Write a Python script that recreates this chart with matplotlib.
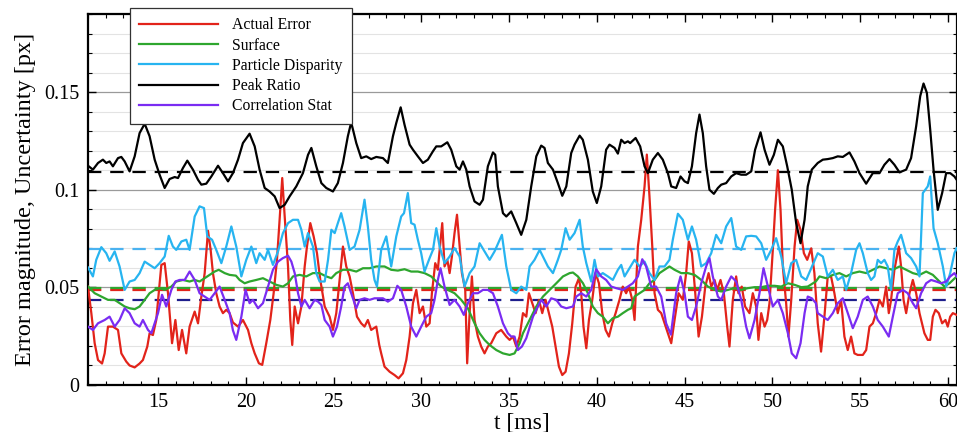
import matplotlib
matplotlib.use("Agg")
import matplotlib.pyplot as plt
from matplotlib.ticker import MultipleLocator, FormatStrFormatter

plt.rcParams['font.family'] = ['Liberation Serif', 'DejaVu Serif']

# ---------------- data (t [ms], value [px]) ----------------
actual_error = [(11.00,.0504),(11.19,.0368),(11.38,.0214),(11.57,.0128),(11.80,.0110),(11.95,.0162),(12.14,.0299),(12.42,.0299),(12.71,.0282),(12.90,.0162),(13.18,.0120),(13.37,.0100),(13.66,.0090),(13.94,.0110),(14.13,.0128),(14.38,.0197),(14.51,.0265),(14.70,.0256),(14.89,.0333),(15.03,.0470),(15.18,.0615),(15.37,.0624),(15.56,.0470),(15.79,.0214),(15.98,.0333),(16.17,.0179),(16.36,.0282),(16.60,.0162),(16.79,.0299),(17.08,.0376),(17.27,.0316),(17.46,.0453),(17.65,.0573),(17.84,.0790),(17.99,.0692),(18.12,.0573),(18.31,.0470),(18.50,.0402),(18.69,.0368),(18.88,.0385),(19.07,.0368),(19.26,.0320),(19.55,.0299),(19.83,.0333),(20.12,.0282),(20.31,.0214),(20.50,.0162),(20.74,.0111),(20.93,.0103),(21.16,.0214),(21.39,.0333),(21.58,.0470),(21.77,.0641),(21.92,.0846),(22.07,.1060),(22.21,.0863),(22.40,.0607),(22.53,.0333),(22.64,.0205),(22.78,.0402),(22.97,.0316),(23.16,.0402),(23.35,.0607),(23.48,.0709),(23.67,.0829),(23.86,.0761),(24.05,.0675),(24.24,.0538),(24.49,.0402),(24.77,.0350),(24.96,.0282),(25.15,.0368),(25.38,.0573),(25.53,.0709),(25.72,.0607),(25.91,.0556),(26.10,.0470),(26.33,.0350),(26.57,.0316),(26.76,.0299),(26.95,.0333),(27.14,.0282),(27.43,.0299),(27.60,.0205),(27.71,.0162),(27.90,.0094),(28.19,.0068),(28.47,.0051),(28.70,.0034),(28.95,.0060),(29.14,.0128),(29.33,.0248),(29.52,.0419),(29.71,.0487),(29.90,.0368),(30.09,.0402),(30.28,.0299),(30.47,.0316),(30.60,.0470),(30.79,.0624),(30.94,.0590),(31.06,.0709),(31.19,.0829),(31.32,.0607),(31.48,.0641),(31.61,.0573),(31.74,.0658),(31.89,.0778),(32.03,.0872),(32.18,.0709),(32.31,.0573),(32.50,.0487),(32.61,.0111),(32.75,.0368),(32.88,.0556),(33.03,.0333),(33.22,.0248),(33.41,.0197),(33.60,.0162),(33.79,.0197),(33.98,.0214),(34.27,.0265),(34.55,.0282),(34.84,.0248),(35.03,.0231),(35.22,.0248),(35.41,.0197),(35.60,.0248),(35.79,.0368),(35.98,.0350),(36.13,.0470),(36.32,.0419),(36.51,.0368),(36.70,.0436),(36.89,.0368),(37.08,.0436),(37.27,.0368),(37.46,.0299),(37.65,.0197),(37.84,.0094),(38.03,.0051),(38.22,.0068),(38.41,.0162),(38.60,.0316),(38.79,.0504),(38.98,.0547),(39.11,.0470),(39.24,.0299),(39.40,.0188),(39.55,.0333),(39.74,.0436),(39.93,.0573),(40.12,.0521),(40.31,.0368),(40.50,.0282),(40.69,.0248),(40.88,.0316),(41.07,.0368),(41.29,.0436),(41.48,.0504),(41.67,.0470),(41.83,.0504),(42.02,.0436),(42.15,.0333),(42.34,.0709),(42.53,.0846),(42.72,.1017),(42.85,.1180),(43.00,.0966),(43.16,.0709),(43.29,.0470),(43.48,.0385),(43.67,.0368),(43.86,.0316),(44.05,.0265),(44.24,.0214),(44.43,.0333),(44.66,.0470),(44.90,.0436),(45.09,.0573),(45.24,.0735),(45.42,.0675),(45.61,.0470),(45.80,.0248),(45.99,.0350),(46.18,.0504),(46.37,.0573),(46.52,.0504),(46.71,.0538),(46.86,.0487),(47.05,.0538),(47.24,.0470),(47.43,.0299),(47.56,.0197),(47.75,.0436),(47.94,.0556),(48.07,.0470),(48.26,.0504),(48.45,.0402),(48.70,.0368),(48.89,.0470),(49.08,.0402),(49.21,.0231),(49.37,.0368),(49.56,.0299),(49.71,.0333),(49.84,.0419),(50.03,.0692),(50.16,.0897),(50.32,.1100),(50.47,.0897),(50.60,.0607),(50.79,.0419),(50.92,.0248),(51.08,.0436),(51.27,.0709),(51.42,.0846),(51.61,.0795),(51.80,.0675),(51.99,.0641),(52.22,.0700),(52.40,.0573),(52.59,.0316),(52.78,.0171),(52.97,.0350),(53.16,.0556),(53.35,.0556),(53.54,.0470),(53.73,.0368),(53.92,.0436),(54.11,.0248),(54.30,.0179),(54.49,.0248),(54.68,.0162),(54.87,.0154),(55.16,.0154),(55.35,.0179),(55.54,.0299),(55.73,.0316),(55.92,.0368),(56.11,.0436),(56.30,.0402),(56.49,.0504),(56.64,.0368),(56.77,.0436),(56.96,.0590),(57.21,.0709),(57.34,.0607),(57.48,.0436),(57.63,.0368),(57.82,.0470),(58.01,.0538),(58.20,.0470),(58.39,.0368),(58.67,.0265),(58.86,.0231),(59.00,.0231),(59.15,.0350),(59.30,.0385),(59.49,.0368),(59.68,.0316),(59.87,.0333),(60.00,.0299),(60.14,.0350),(60.29,.0368),(60.51,.0359)]

surface = [(11.00,.0504),(11.38,.0470),(11.76,.0453),(12.14,.0436),(12.52,.0436),(12.80,.0419),(13.09,.0402),(13.37,.0393),(13.66,.0388),(13.94,.0402),(14.23,.0436),(14.51,.0470),(14.80,.0487),(15.08,.0496),(15.37,.0487),(15.75,.0504),(16.03,.0530),(16.41,.0538),(16.79,.0530),(17.08,.0538),(17.36,.0530),(17.65,.0547),(17.93,.0564),(18.22,.0581),(18.45,.0590),(18.79,.0573),(19.07,.0564),(19.43,.0560),(19.64,.0538),(19.93,.0521),(20.21,.0530),(20.59,.0538),(20.97,.0547),(21.35,.0530),(21.73,.0513),(22.11,.0504),(22.40,.0521),(22.68,.0556),(23.06,.0564),(23.44,.0556),(23.82,.0573),(24.20,.0573),(24.58,.0556),(24.87,.0547),(25.15,.0573),(25.53,.0590),(25.91,.0590),(26.29,.0581),(26.67,.0598),(27.05,.0598),(27.43,.0607),(27.90,.0607),(28.28,.0590),(28.66,.0586),(29.04,.0593),(29.42,.0581),(29.80,.0581),(30.18,.0573),(30.56,.0556),(30.85,.0530),(31.13,.0504),(31.51,.0487),(31.89,.0470),(32.27,.0436),(32.65,.0393),(33.03,.0316),(33.32,.0265),(33.60,.0231),(33.89,.0205),(34.27,.0179),(34.65,.0162),(35.03,.0154),(35.31,.0162),(35.60,.0214),(35.79,.0265),(36.17,.0333),(36.55,.0402),(36.93,.0453),(37.31,.0487),(37.69,.0521),(38.07,.0556),(38.45,.0573),(38.64,.0576),(38.92,.0556),(39.21,.0521),(39.49,.0470),(39.77,.0402),(40.06,.0368),(40.34,.0350),(40.63,.0316),(40.91,.0342),(41.20,.0350),(41.48,.0368),(41.77,.0385),(41.96,.0393),(42.15,.0453),(42.43,.0470),(42.72,.0487),(43.00,.0521),(43.29,.0538),(43.57,.0573),(43.86,.0590),(44.14,.0607),(44.43,.0590),(44.81,.0573),(45.19,.0573),(45.57,.0564),(45.95,.0538),(46.33,.0504),(46.71,.0487),(47.09,.0479),(47.47,.0487),(47.85,.0496),(48.23,.0487),(48.61,.0496),(48.99,.0501),(49.37,.0501),(49.75,.0508),(50.13,.0508),(50.51,.0504),(50.89,.0521),(51.27,.0513),(51.65,.0501),(52.02,.0504),(52.48,.0530),(52.69,.0556),(53.07,.0547),(53.45,.0564),(53.83,.0573),(54.21,.0556),(54.59,.0573),(54.97,.0581),(55.35,.0573),(55.73,.0590),(56.11,.0607),(56.49,.0598),(56.87,.0590),(57.25,.0607),(57.63,.0590),(58.01,.0573),(58.39,.0564),(58.77,.0581),(59.15,.0564),(59.53,.0530),(59.81,.0504),(60.10,.0521),(60.51,.0556)]

particle_disparity = [(11.00,.0602),(11.28,.0556),(11.47,.0641),(11.76,.0706),(12.04,.0675),(12.23,.0636),(12.52,.0684),(12.80,.0607),(13.09,.0487),(13.37,.0530),(13.66,.0538),(13.94,.0573),(14.23,.0632),(14.51,.0615),(14.80,.0598),(15.08,.0624),(15.37,.0658),(15.60,.0764),(15.84,.0709),(16.03,.0692),(16.32,.0735),(16.60,.0744),(16.79,.0692),(17.08,.0863),(17.36,.0915),(17.61,.0906),(17.80,.0761),(18.07,.0744),(18.31,.0692),(18.60,.0624),(18.88,.0709),(19.17,.0812),(19.45,.0709),(19.74,.0556),(20.02,.0641),(20.31,.0709),(20.59,.0624),(20.78,.0675),(21.07,.0641),(21.26,.0692),(21.54,.0615),(21.83,.0684),(22.11,.0778),(22.40,.0829),(22.68,.0846),(22.97,.0846),(23.16,.0795),(23.35,.0709),(23.54,.0778),(23.82,.0709),(24.01,.0573),(24.20,.0530),(24.49,.0530),(24.68,.0641),(24.87,.0795),(25.06,.0778),(25.24,.0829),(25.43,.0880),(25.62,.0812),(25.91,.0692),(26.19,.0709),(26.48,.0795),(26.76,.0949),(26.95,.0812),(27.14,.0641),(27.33,.0538),(27.47,.0504),(27.71,.0692),(28.00,.0761),(28.28,.0607),(28.57,.0761),(28.85,.0863),(29.01,.0880),(29.23,.0983),(29.42,.0829),(29.61,.0821),(29.80,.0744),(29.99,.0675),(30.18,.0581),(30.47,.0650),(30.66,.0692),(30.85,.0803),(31.04,.0709),(31.32,.0624),(31.61,.0658),(31.89,.0701),(32.18,.0658),(32.46,.0504),(32.75,.0573),(33.03,.0607),(33.32,.0726),(33.60,.0684),(33.89,.0641),(34.17,.0684),(34.59,.0769),(34.84,.0607),(35.12,.0487),(35.41,.0470),(35.69,.0504),(35.98,.0487),(36.17,.0607),(36.45,.0641),(36.74,.0692),(36.93,.0658),(37.21,.0607),(37.50,.0573),(37.78,.0641),(37.97,.0692),(38.22,.0803),(38.45,.0744),(38.73,.0778),(39.02,.0846),(39.20,.0709),(39.40,.0624),(39.68,.0530),(39.87,.0641),(40.06,.0556),(40.34,.0573),(40.63,.0556),(40.91,.0538),(41.20,.0590),(41.39,.0615),(41.58,.0556),(41.86,.0598),(42.15,.0641),(42.43,.0607),(42.72,.0632),(43.00,.0573),(43.29,.0538),(43.57,.0607),(43.86,.0607),(44.14,.0641),(44.33,.0744),(44.62,.0877),(44.90,.0846),(45.19,.0744),(45.42,.0812),(45.66,.0744),(45.95,.0607),(46.23,.0624),(46.52,.0675),(46.80,.0769),(47.09,.0726),(47.37,.0812),(47.66,.0855),(47.94,.0709),(48.23,.0692),(48.51,.0761),(48.80,.0764),(49.08,.0761),(49.37,.0726),(49.65,.0641),(49.94,.0692),(50.22,.0752),(50.51,.0658),(50.79,.0521),(51.08,.0624),(51.36,.0641),(51.65,.0556),(51.93,.0538),(52.22,.0598),(52.59,.0675),(52.88,.0658),(53.16,.0556),(53.45,.0590),(53.73,.0538),(54.02,.0556),(54.21,.0487),(54.49,.0573),(54.78,.0692),(54.97,.0726),(55.16,.0675),(55.44,.0573),(55.63,.0538),(55.82,.0556),(56.01,.0641),(56.20,.0624),(56.39,.0641),(56.58,.0607),(56.77,.0487),(56.96,.0692),(57.15,.0735),(57.34,.0769),(57.63,.0675),(57.91,.0650),(58.20,.0607),(58.39,.0556),(58.58,.0983),(58.86,.1017),(59.00,.1068),(59.19,.0803),(59.43,.0726),(59.72,.0607),(59.91,.0504),(60.14,.0573),(60.38,.0675),(60.51,.0701)]

peak_ratio = [(11.00,.1123),(11.28,.1103),(11.57,.1137),(11.85,.1154),(12.04,.1137),(12.23,.1145),(12.42,.1120),(12.71,.1162),(12.90,.1168),(13.09,.1145),(13.37,.1094),(13.66,.1171),(13.94,.1290),(14.23,.1338),(14.51,.1274),(14.80,.1154),(15.08,.1077),(15.37,.1009),(15.65,.1055),(15.94,.1065),(16.13,.1060),(16.41,.1111),(16.66,.1149),(16.98,.1103),(17.27,.1051),(17.46,.1026),(17.74,.1031),(18.03,.1068),(18.41,.1123),(18.69,.1085),(18.98,.1043),(19.26,.1085),(19.55,.1154),(19.83,.1239),(20.21,.1287),(20.50,.1222),(20.78,.1103),(21.07,.1009),(21.35,.0991),(21.64,.0966),(21.92,.0906),(22.21,.0923),(22.49,.0966),(22.87,.1017),(23.25,.1085),(23.54,.1179),(23.73,.1214),(24.01,.1120),(24.30,.1034),(24.58,.1009),(24.96,.0991),(25.24,.1034),(25.53,.1137),(25.81,.1274),(26.00,.1345),(26.29,.1239),(26.57,.1162),(26.86,.1171),(27.14,.1157),(27.43,.1168),(27.81,.1162),(28.09,.1137),(28.38,.1274),(28.57,.1342),(28.82,.1422),(29.04,.1333),(29.33,.1231),(29.52,.1205),(29.80,.1171),(30.09,.1137),(30.37,.1154),(30.66,.1197),(30.85,.1222),(31.13,.1222),(31.48,.1243),(31.70,.1205),(31.99,.1120),(32.18,.1103),(32.37,.1145),(32.56,.1103),(32.75,.1017),(33.03,.0940),(33.32,.0923),(33.51,.0949),(33.79,.1120),(34.08,.1191),(34.21,.1179),(34.36,.1017),(34.65,.0880),(34.84,.0863),(35.12,.0889),(35.41,.0829),(35.69,.0769),(35.98,.0846),(36.26,.1017),(36.55,.1171),(36.83,.1226),(37.02,.1214),(37.21,.1137),(37.50,.1103),(37.78,.1034),(38.03,.0969),(38.26,.1017),(38.54,.1188),(38.73,.1231),(39.02,.1277),(39.20,.1256),(39.49,.1154),(39.77,.0991),(40.00,.0932),(40.25,.1017),(40.53,.1205),(40.72,.1231),(41.01,.1214),(41.20,.1185),(41.39,.1256),(41.58,.1239),(41.77,.1248),(41.90,.1239),(42.21,.1265),(42.47,.1222),(42.72,.1120),(42.91,.1085),(43.19,.1154),(43.48,.1188),(43.76,.1154),(44.05,.1085),(44.24,.1017),(44.52,.1009),(44.77,.1068),(45.00,.1043),(45.19,.1034),(45.42,.1120),(45.66,.1290),(45.85,.1385),(46.04,.1290),(46.23,.1120),(46.42,.1000),(46.67,.0979),(46.90,.1009),(47.09,.1026),(47.37,.1034),(47.66,.1068),(47.94,.1085),(48.23,.1077),(48.51,.1077),(48.80,.1094),(49.02,.1205),(49.33,.1294),(49.56,.1205),(49.84,.1128),(50.09,.1179),(50.32,.1256),(50.60,.1222),(50.85,.1120),(51.11,.1000),(51.36,.0829),(51.61,.0726),(51.84,.0846),(52.02,.1017),(52.25,.1103),(52.59,.1137),(52.88,.1154),(53.16,.1157),(53.45,.1162),(53.73,.1171),(54.02,.1168),(54.40,.1191),(54.68,.1145),(54.97,.1085),(55.35,.1031),(55.73,.1085),(56.11,.1085),(56.39,.1128),(56.68,.1157),(56.96,.1128),(57.25,.1089),(57.63,.1103),(57.91,.1162),(58.20,.1325),(58.43,.1479),(58.62,.1544),(58.81,.1496),(59.00,.1308),(59.19,.1103),(59.43,.0897),(59.68,.0983),(59.91,.1085),(60.14,.1085),(60.38,.1068),(60.51,.1051)]

correlation_stat = [(11.00,.0299),(11.28,.0282),(11.57,.0316),(11.95,.0333),(12.23,.0350),(12.52,.0299),(12.80,.0333),(13.09,.0393),(13.37,.0368),(13.66,.0316),(13.94,.0299),(14.13,.0333),(14.42,.0282),(14.61,.0265),(14.80,.0316),(14.99,.0368),(15.22,.0462),(15.46,.0402),(15.75,.0487),(15.98,.0530),(16.22,.0538),(16.51,.0538),(16.79,.0581),(17.08,.0538),(17.36,.0470),(17.65,.0453),(17.93,.0436),(18.22,.0470),(18.50,.0504),(18.79,.0436),(19.07,.0368),(19.26,.0280),(19.45,.0231),(19.74,.0350),(19.98,.0487),(20.21,.0419),(20.40,.0436),(20.69,.0393),(20.97,.0419),(21.26,.0504),(21.54,.0590),(21.83,.0632),(22.11,.0650),(22.40,.0662),(22.59,.0632),(22.78,.0573),(22.97,.0470),(23.16,.0402),(23.35,.0436),(23.63,.0393),(23.92,.0436),(24.11,.0427),(24.30,.0410),(24.49,.0333),(24.77,.0299),(24.96,.0248),(25.19,.0299),(25.43,.0402),(25.62,.0504),(25.81,.0521),(26.00,.0470),(26.29,.0393),(26.48,.0436),(26.76,.0444),(27.05,.0436),(27.33,.0444),(27.52,.0444),(27.81,.0444),(28.09,.0427),(28.38,.0444),(28.63,.0508),(28.85,.0487),(29.14,.0402),(29.42,.0299),(29.71,.0248),(29.99,.0299),(30.28,.0350),(30.56,.0368),(30.75,.0436),(30.94,.0538),(31.09,.0598),(31.32,.0504),(31.61,.0410),(31.89,.0436),(32.18,.0402),(32.42,.0359),(32.65,.0419),(32.94,.0470),(33.22,.0470),(33.51,.0487),(33.79,.0487),(34.08,.0470),(34.36,.0402),(34.65,.0316),(34.93,.0265),(35.12,.0248),(35.31,.0248),(35.50,.0179),(35.73,.0197),(35.98,.0240),(36.36,.0350),(36.64,.0402),(36.83,.0436),(37.12,.0402),(37.40,.0444),(37.69,.0436),(37.97,.0402),(38.26,.0393),(38.64,.0402),(38.83,.0453),(39.11,.0470),(39.40,.0453),(39.68,.0487),(39.96,.0593),(40.25,.0556),(40.53,.0538),(40.82,.0504),(41.10,.0496),(41.48,.0487),(41.77,.0504),(42.05,.0521),(42.34,.0556),(42.59,.0644),(42.81,.0607),(43.10,.0504),(43.38,.0504),(43.67,.0453),(43.95,.0316),(44.22,.0258),(44.52,.0470),(44.77,.0556),(45.00,.0470),(45.19,.0350),(45.42,.0333),(45.66,.0402),(45.95,.0521),(46.23,.0607),(46.42,.0650),(46.61,.0556),(46.90,.0453),(47.09,.0436),(47.37,.0504),(47.66,.0556),(47.94,.0530),(48.23,.0436),(48.51,.0299),(48.70,.0239),(48.99,.0333),(49.27,.0470),(49.50,.0598),(49.75,.0504),(50.03,.0402),(50.32,.0436),(50.60,.0368),(50.89,.0265),(51.11,.0162),(51.36,.0137),(51.61,.0214),(51.84,.0368),(52.02,.0453),(52.25,.0444),(52.48,.0420),(52.59,.0368),(52.88,.0350),(53.16,.0333),(53.45,.0368),(53.73,.0419),(54.02,.0444),(54.30,.0368),(54.59,.0291),(54.87,.0350),(55.16,.0436),(55.44,.0453),(55.73,.0402),(56.01,.0333),(56.30,.0299),(56.64,.0248),(56.87,.0350),(57.15,.0470),(57.44,.0487),(57.72,.0470),(58.01,.0419),(58.20,.0393),(58.48,.0470),(58.77,.0521),(59.05,.0538),(59.34,.0530),(59.62,.0521),(59.91,.0530),(60.14,.0556),(60.38,.0573),(60.51,.0556)]

series_names = ["Actual Error", "Surface", "Particle Disparity", "Peak Ratio", "Correlation Stat"]
series_colors = ["#E2231A", "#2EA62E", "#27B4F0", "#000000", "#7A2CF2"]
# mean levels (dashed)
mean_values = [0.0484, 0.0495, 0.0696, 0.1090, 0.0436]
mean_colors = ["#E2231A", "#2EA62E", "#4AB2F0", "#000000", "#1E1E8C"]

series_data = [actual_error, surface, particle_disparity, peak_ratio, correlation_stat]

# ---------------- figure ----------------
fig = plt.figure(figsize=(9.57, 4.32), dpi=100)
ax = fig.add_axes([88/957, 1-385/432, 1-88/957 - 0.0005, (385-14)/432])

ax.set_xlim(11, 60.5)
ax.set_ylim(0, 0.19)

# grid
ax.yaxis.set_major_locator(MultipleLocator(0.05))
ax.yaxis.set_minor_locator(MultipleLocator(0.01))
ax.xaxis.set_major_locator(MultipleLocator(5))
ax.xaxis.set_minor_locator(MultipleLocator(1))
ax.yaxis.set_major_formatter(FormatStrFormatter('%g'))
ax.grid(True, which='major', axis='y', color='#9a9a9a', lw=0.9, zorder=0)
ax.grid(True, which='minor', axis='y', color='#e3e3e3', lw=0.8, zorder=0)
ax.set_axisbelow(True)

# mean lines (dashed)
for mv, mc in zip(mean_values, mean_colors):
    ax.axhline(mv, color=mc, lw=1.6, linestyle=(0, (6, 4)), zorder=2)

# series
for name, col, data in zip(series_names, series_colors, series_data):
    t = [p[0] for p in data]
    v = [p[1] for p in data]
    ax.plot(t, v, color=col, lw=1.6, label=name, zorder=3)

# ticks
ax.tick_params(axis='both', which='major', direction='in', length=6, width=1.0,
               top=True, right=True, labelsize=14.5, pad=6)
ax.tick_params(axis='both', which='minor', direction='in', length=3, width=0.8,
               top=True, right=True)
for s in ax.spines.values():
    s.set_linewidth(1.6)

ax.set_xlabel("t [ms]", fontsize=17, labelpad=0)
ax.set_ylabel("Error magnitude, Uncertainty [px]", fontsize=17.5, labelpad=6)

leg = ax.legend(loc='upper left', bbox_to_anchor=(130/957, 1-8/432),
                bbox_transform=fig.transFigure, borderaxespad=0,
                fontsize=11.3, frameon=True, fancybox=False, framealpha=1,
                edgecolor='#333333', handlelength=5.0, handletextpad=0.9,
                labelspacing=0.27, borderpad=0.6)
leg.get_frame().set_linewidth(0.9)
leg.set_zorder(10)

fig.savefig("out.png", dpi=100)
